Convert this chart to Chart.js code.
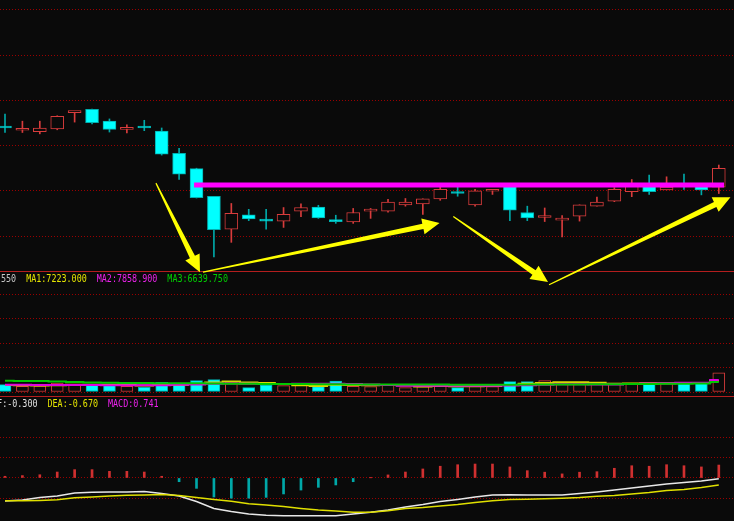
<!DOCTYPE html>
<html>
<head>
<meta charset="utf-8">
<script src="https://cdn.jsdelivr.net/npm/chart.js@4.4.1/dist/chart.umd.min.js"></script>
<style>
  html, body { margin: 0; padding: 0; background: #0a0a0a; overflow: hidden; }
  #wrap { width: 734px; height: 521px; position: relative; }
</style>
</head>
<body>
<div id="wrap"><canvas id="kline"></canvas></div>
<script>
// daily candles, price units (no axis labels shown)
const opens  = [12.40, 12.34, 12.31, 12.37, 12.73, 12.80, 12.54, 12.36, 12.40, 12.32, 11.83, 11.49, 10.88, 10.15,
                10.47, 10.35, 10.33, 10.55, 10.64, 10.33, 10.31, 10.55, 10.55, 10.69, 10.71, 10.82, 10.96, 10.69,
                10.99, 11.11, 10.52, 10.41, 10.35, 10.44, 10.66, 10.77, 10.98, 11.11, 11.02, 11.15, 11.11, 11.08];
const highs  = [12.70, 12.54, 12.54, 12.66, 12.74, 12.81, 12.59, 12.46, 12.56, 12.39, 11.94, 11.50, 10.88, 10.72,
                10.59, 10.59, 10.63, 10.71, 10.68, 10.46, 10.61, 10.61, 10.81, 10.83, 10.82, 11.08, 11.08, 11.03,
                11.01, 11.12, 10.66, 10.62, 10.45, 10.69, 10.86, 11.07, 11.25, 11.35, 11.31, 11.37, 11.15, 11.57];
const lows   = [12.29, 12.29, 12.26, 12.35, 12.52, 12.48, 12.30, 12.28, 12.33, 11.79, 11.25, 10.84, 9.54, 9.86,
                10.34, 10.15, 10.19, 10.43, 10.39, 10.28, 10.28, 10.39, 10.53, 10.66, 10.48, 10.79, 10.88, 10.66,
                10.92, 10.34, 10.34, 10.32, 9.98, 10.33, 10.66, 10.76, 10.87, 10.92, 11.02, 11.03, 10.91, 10.94];
const closes = [12.39, 12.35, 12.39, 12.65, 12.74, 12.51, 12.36, 12.40, 12.39, 11.81, 11.37, 10.85, 10.14, 10.50,
                10.38, 10.33, 10.48, 10.63, 10.40, 10.32, 10.52, 10.56, 10.75, 10.75, 10.82, 11.03, 10.94, 11.00,
                11.00, 10.57, 10.40, 10.42, 10.39, 10.69, 10.75, 11.03, 11.11, 10.98, 11.08, 11.11, 11.02, 11.50];

const volumes = [4900, 3700, 3900, 5900, 4900, 4900, 4900, 3700, 3100, 6400, 5900, 7500, 8100, 6600,
                 2900, 4600, 4200, 4400, 3500, 7200, 3700, 3500, 5000, 2900, 3500, 4600, 2900, 4900,
                 3500, 6800, 6800, 7500, 5500, 5500, 5000, 5900, 5900, 5900, 5900, 5900, 5900, 12550];
const volMa1 = [4600, 4400, 4300, 4500, 4700, 4700, 4700, 4700, 4300, 4600, 4800, 5300, 6200, 6900,
                6200, 5900, 5300, 4500, 3900, 4800, 4600, 4500, 4600, 4500, 3700, 3900, 3800, 3800,
                3900, 4600, 5400, 5900, 6400, 6400, 6100, 5500, 5600, 5700, 5700, 5900, 5900, 7223];
const volMa2 = [4800, 4700, 4600, 4600, 4600, 4600, 4500, 4500, 4400, 4500, 4700, 4900, 5400, 5600,
                5500, 5300, 5300, 5400, 5400, 5500, 5200, 4900, 4600, 4200, 4200, 4200, 4200, 4200,
                4200, 4300, 4500, 4800, 5100, 5100, 5000, 5000, 5300, 5600, 5800, 6100, 6100, 7859];
const volMa3 = [7400, 7300, 7200, 6900, 6600, 6300, 6100, 6000, 5900, 5800, 5800, 5700, 5600, 5500,
                5400, 5300, 5200, 5200, 5100, 5100, 5000, 5000, 5000, 4900, 4900, 4900, 4800, 4800,
                4800, 4800, 4900, 5000, 5000, 5000, 5100, 5100, 5200, 5300, 5400, 5500, 5600, 6640];

const dif  = [-1.35, -1.29, -1.15, -1.06, -0.88, -0.84, -0.82, -0.82, -0.79, -0.91, -1.06, -1.38, -1.79, -1.97,
              -2.12, -2.19, -2.22, -2.22, -2.22, -2.22, -2.12, -2.02, -1.88, -1.71, -1.56, -1.38, -1.26, -1.12,
              -1.00, -0.98, -1.00, -1.00, -1.00, -0.91, -0.82, -0.71, -0.59, -0.47, -0.35, -0.26, -0.18, -0.04];
const dea  = [-1.34, -1.34, -1.32, -1.28, -1.16, -1.12, -1.06, -1.02, -1.00, -0.97, -1.03, -1.15, -1.26, -1.37,
              -1.52, -1.59, -1.68, -1.79, -1.88, -1.94, -2.01, -2.02, -1.93, -1.79, -1.74, -1.65, -1.56, -1.44,
              -1.34, -1.27, -1.25, -1.22, -1.19, -1.15, -1.08, -1.03, -0.94, -0.86, -0.74, -0.68, -0.56, -0.41];
const macd = [0.10, 0.14, 0.19, 0.35, 0.49, 0.49, 0.39, 0.39, 0.35, 0.10, -0.22, -0.61, -1.12, -1.19,
              -1.19, -1.14, -0.94, -0.71, -0.55, -0.41, -0.22, 0.01, 0.18, 0.35, 0.53, 0.69, 0.78, 0.82,
              0.82, 0.65, 0.43, 0.34, 0.24, 0.34, 0.37, 0.57, 0.72, 0.69, 0.78, 0.72, 0.65, 0.76];

// dotted grid levels of each panel
const priceLevels  = [10, 11, 12, 13, 14, 15];
const volumeLevels = [0, 16000, 32000, 48000, 64000];
const macdLevels   = [-1.2, 0, 1.2, 2.4];

// annotations drawn over the candles (candle index, price)
const resistance = { from: 10.86, to: 41.3, price: 11.13 };
const arrowTails = [[8.67, 11.17], [11.37, 9.20], [25.75, 10.43], [31.25, 8.92]];
const arrowHeads = [[11.2, 9.20], [24.96, 10.29], [31.19, 8.98], [41.67, 10.86]];

const volumeTexts = ['550', 'MA1:7223.000', 'MA2:7858.900', 'MA3:6639.750'];
const macdTexts   = ['DIF:-0.300', 'DEA:-0.670', 'MACD:0.741'];

const BG = '#0a0a0a';
const RED = '#d83c3c';
const CYAN = '#00ffff';
const TEAL = '#00a8a8';
const GRID = '#9a0000';

const isUp = opens.map((o, i) => closes[i] >= o);
const idx = arr => arr.map((v, i) => ({ x: i, y: v }));

function panelAxis(levels, min, max, height, rank) {
    return {
        type: 'linear', position: 'left', stack: 'panels', stackWeight: height, weight: rank,
        min, max,
        afterBuildTicks: axis => { axis.ticks = levels.map(v => ({ value: v })); },
        ticks: { display: false },
        grid: { color: GRID, lineWidth: 1, drawTicks: false },
        border: { display: false, dash: [1, 2] }
    };
}

function drawArrow(ctx, x1, y1, x2, y2) {
    const len = Math.hypot(x2 - x1, y2 - y1);
    const ux = (x2 - x1) / len, uy = (y2 - y1) / len;
    const nx = -uy, ny = ux;
    const headLen = 17, bx = x2 - ux * headLen, by = y2 - uy * headLen;
    const pts = [
        [x1 + nx * 0.6, y1 + ny * 0.6], [bx + nx * 2.8, by + ny * 2.8], [bx + nx * 8, by + ny * 8],
        [x2, y2],
        [bx - nx * 8, by - ny * 8], [bx - nx * 2.8, by - ny * 2.8], [x1 - nx * 0.6, y1 - ny * 0.6]
    ];
    ctx.beginPath();
    pts.forEach(([px, py], k) => k ? ctx.lineTo(px, py) : ctx.moveTo(px, py));
    ctx.closePath();
    ctx.fill();
}

function drawTexts(ctx, texts, colors, x0, y) {
    ctx.font = '10px "DejaVu Sans Mono"';
    ctx.textBaseline = 'middle';
    let x = x0;
    texts.forEach((t, k) => {
        const w = t.length * 5.05;
        ctx.fillStyle = colors[k];
        ctx.fillText(t, x, y, w);
        x += w + 10;
    });
}

const panelDecor = {
    id: 'panelDecor',
    beforeDraw(chart) {
        const { ctx, width, height } = chart;
        ctx.save();
        ctx.fillStyle = BG;
        ctx.fillRect(0, 0, width, height);
        ctx.restore();
    },
    afterDatasetsDraw(chart) {
        const { ctx, chartArea, scales: { x, y, yVol, yMacd } } = chart;
        ctx.save();
        ctx.strokeStyle = '#b41e1e';
        ctx.lineWidth = 1;
        [yVol.top, yMacd.top].forEach(t => {
            const py = Math.round(t) + 0.5;
            ctx.beginPath();
            ctx.moveTo(chartArea.left, py);
            ctx.lineTo(chartArea.right, py);
            ctx.stroke();
        });
        drawTexts(ctx, volumeTexts, ['#c8c8c8', '#e6e600', '#ee22ee', '#00d000'], 1, yVol.top + 8);
        drawTexts(ctx, macdTexts, ['#e0e0e0', '#e6e600', '#ee22ee'], -13, yMacd.top + 8);
        ctx.fillStyle = '#ffff00';
        arrowTails.forEach((tail, k) => {
            const head = arrowHeads[k];
            drawArrow(ctx, x.getPixelForValue(tail[0]), y.getPixelForValue(tail[1]),
                x.getPixelForValue(head[0]), y.getPixelForValue(head[1]));
        });
        ctx.restore();
    }
};

new Chart(document.getElementById('kline'), {
    type: 'bar',
    data: {
        datasets: [
            {
                type: 'line', order: 0, yAxisID: 'y',
                data: [{ x: resistance.from, y: resistance.price }, { x: resistance.to, y: resistance.price }],
                borderColor: '#ff00ff', borderWidth: 5, borderCapStyle: 'butt', pointRadius: 0
            },
            {
                order: 2, yAxisID: 'y', grouped: false,
                data: opens.map((o, i) => ({ x: i, y: [o, closes[i]] })),
                backgroundColor: isUp.map(u => u ? BG : CYAN),
                borderColor: isUp.map(u => u ? RED : '#00b0b0'),
                borderWidth: 1, borderSkipped: false,
                barThickness: 13, maxBarThickness: 13, minBarLength: 2
            },
            {
                order: 3, yAxisID: 'y', grouped: false,
                data: lows.map((l, i) => ({ x: i, y: [l, highs[i]] })),
                backgroundColor: isUp.map(u => u ? RED : TEAL),
                borderWidth: 0, barThickness: 1, maxBarThickness: 1
            },
            {
                order: 3, yAxisID: 'yVol', grouped: false,
                data: idx(volumes),
                backgroundColor: isUp.map(u => u ? BG : CYAN),
                borderColor: isUp.map(u => u ? RED : '#00b0b0'),
                borderWidth: 1, borderSkipped: false,
                barThickness: 12, maxBarThickness: 12
            },
            { type: 'line', order: 1, yAxisID: 'yVol', data: idx(volMa3), borderColor: '#00c800', borderWidth: 2, pointRadius: 0, stepped: 'middle' },
            { type: 'line', order: 1, yAxisID: 'yVol', data: idx(volMa2), borderColor: '#e000e0', borderWidth: 2, pointRadius: 0, stepped: 'middle' },
            { type: 'line', order: 1, yAxisID: 'yVol', data: idx(volMa1), borderColor: '#d8d800', borderWidth: 2, pointRadius: 0, stepped: 'middle' },
            {
                order: 3, yAxisID: 'yMacd', grouped: false,
                data: idx(macd),
                backgroundColor: macd.map(v => v >= 0 ? '#d03030' : TEAL),
                borderWidth: 0, barThickness: 2, maxBarThickness: 2
            },
            { type: 'line', order: 1, yAxisID: 'yMacd', data: idx(dea), borderColor: '#e0e000', borderWidth: 1.5, pointRadius: 0 },
            { type: 'line', order: 1, yAxisID: 'yMacd', data: idx(dif), borderColor: '#e8e8e8', borderWidth: 1.5, pointRadius: 0 }
        ]
    },
    options: {
        responsive: true,
        maintainAspectRatio: false,
        animation: false,
        layout: { padding: 0 },
        scales: {
            x: { type: 'linear', offset: false, min: -0.287, max: 41.873, display: false },
            y: panelAxis(priceLevels, 9.226, 15.221, 271, 3),
            yVol: panelAxis(volumeLevels, -2600, 79400, 125, 2),
            yMacd: panelAxis(macdLevels, -2.53, 4.82, 125, 1)
        },
        plugins: {
            legend: { display: false },
            tooltip: { enabled: false }
        }
    },
    plugins: [panelDecor]
});
</script>
</body>
</html>
